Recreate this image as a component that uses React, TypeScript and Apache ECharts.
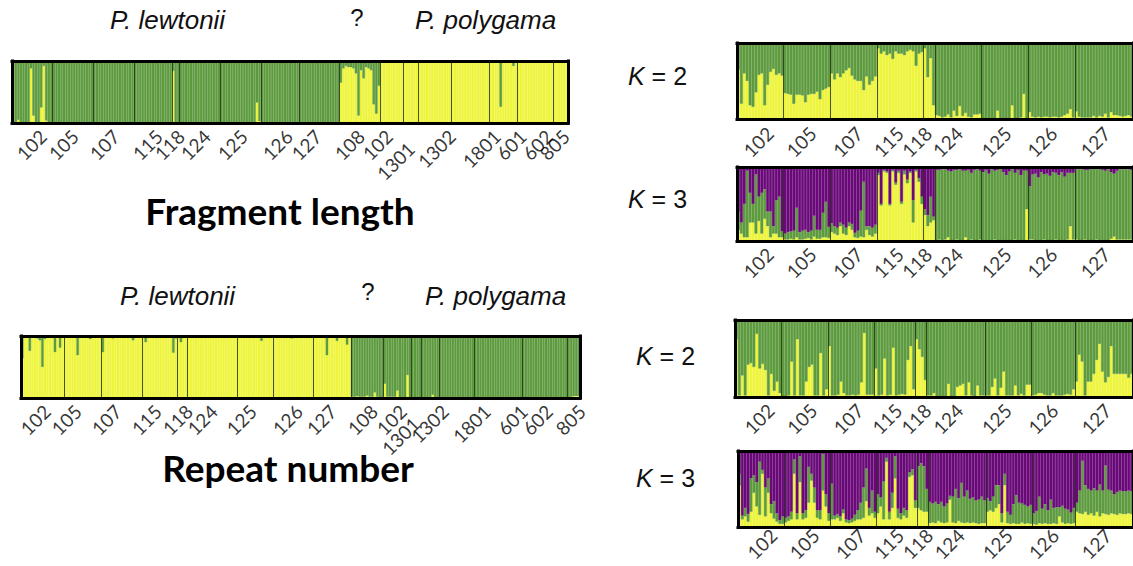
import React, { useEffect, useRef } from "react";
import * as echarts from "echarts";

const YELLOW = "#eef53c";
const GREEN = "#5e9b3f";
const PURPLE = "#6a0a78";

// ---------- Fragment length (left top) ----------
const fragPops = ["102", "105", "107", "115", "118", "124", "125", "126", "127", "108", "102", "1301", "1302", "1801", "601", "602", "805"];
const fragYellow = [
  [0, 0, 0.05, 0, 0, 0, 0, 0.88, 0.12, 0, 0, 0.25, 0.92, 0.04, 0, 0],
  [0, 0, 0, 0, 0, 0, 0, 0, 0, 0, 0, 0, 0, 0, 0, 0],
  [0, 0, 0, 0, 0, 0, 0, 0, 0, 0, 0, 0, 0, 0, 0, 0],
  [0, 0, 0, 0, 0, 0, 0, 0, 0, 0, 0, 0, 0, 0, 0],
  [0.84, 0, 0],
  [0, 0, 0, 0, 0, 0, 0, 0, 0, 0, 0, 0, 0, 0, 0, 0],
  [0, 0, 0, 0, 0, 0, 0, 0, 0, 0, 0, 0, 0, 0, 0.33, 0.03],
  [0, 0, 0, 0, 0, 0, 0, 0, 0, 0, 0, 0, 0, 0, 0],
  [0, 0, 0, 0, 0, 0, 0, 0, 0, 0, 0, 0, 0, 0, 0, 0],
  [0.65, 0.88, 0.92, 0.9, 0.9, 0.88, 0.8, 0.12, 0.85, 0.72, 0.9, 0.88, 0.85, 0.3, 0.15, 0.6],
  [1, 1, 1, 1, 1, 1, 1, 1, 1],
  [1, 1, 1, 1, 1, 1],
  [1, 1, 1, 1, 1, 1, 1, 1, 1, 1, 1, 1, 1],
  [1, 1, 1, 1, 1, 1, 1, 1, 1, 1, 1, 1, 1, 1, 0.97],
  [1, 1, 1, 1, 0.26, 1, 1, 1, 1, 0.92, 1],
  [1, 1, 1, 1, 1, 1, 1, 1, 1, 1, 1, 1, 0.98, 1],
  [1, 1, 1, 1, 1, 0.98],
];
const fragLabelAt = [12.2, 24.8, 41.0, 57.9, 66.6, 76.8, 91.4, 109.1, 120.5, 137.5, 148.5, 157.2, 173.3, 191.0, 201.2, 211.5, 218.2];

// ---------- Repeat number (left bottom) ----------
const repeatPops = fragPops;
const repeatYellow = [
  [0.64, 0.97, 1, 0.76, 1, 1, 0.96, 0.93, 0.5, 0.95, 1, 1, 0.97, 0.74, 1, 0.81, 1],
  [1, 1, 1, 1, 1, 0.69, 1, 1, 1, 1, 0.95, 1, 1, 1, 1],
  [0.74, 1, 1, 1, 0.96, 1, 1, 1, 1, 1, 1, 1, 0.93, 1, 1, 1],
  [1, 0.9, 1, 1, 1, 0.97, 1, 1, 1, 1, 1, 1, 0.73, 0.96],
  [1, 0.9, 0.97, 1],
  [1, 0.98, 1, 1, 0.97, 1, 1, 0.98, 1, 1, 0.97, 1, 1, 1, 0.97, 1, 1, 0.98, 1, 1],
  [1, 1, 1, 1, 1, 1, 1, 1, 1, 0.92, 1, 1, 0.98, 1],
  [1, 1, 1, 1, 1, 1, 1, 0.96, 1, 1, 1, 1, 1, 0.97, 1, 1],
  [1, 1, 1, 1, 1, 0.69, 1, 1, 1, 0.92, 1, 1, 1, 0.86, 1],
  [0.02, 0.02, 0.03, 0.02, 0.02, 0.02, 0.04, 0.02, 0.02, 0.09, 0.02, 0.01, 0],
  [0.23, 0.02, 0.02, 0.02, 0.02, 0.12, 0.01, 0.01, 0.01, 0.37, 0.01],
  [0, 0, 0, 0],
  [0, 0, 0, 0, 0.05, 0, 0],
  [0, 0, 0, 0, 0, 0, 0, 0, 0, 0, 0, 0, 0, 0],
  [0, 0, 0, 0, 0, 0, 0, 0, 0, 0, 0, 0, 0, 0, 0, 0, 0, 0, 0],
  [0, 0, 0, 0, 0, 0, 0, 0, 0, 0, 0, 0, 0, 0, 0, 0, 0, 0],
  [0, 0.02, 0.03, 0.03, 0.03],
];
const repeatLabelAt = [10.3, 22.6, 38.5, 54.4, 66.7, 76.6, 92.1, 110.4, 123.9, 140.2, 151.7, 156.9, 168.4, 185.1, 199.8, 209.7, 222.8];

// ---------- K panels (right) ----------
const kPops = ["102", "105", "107", "115", "118", "124", "125", "126", "127"];

const k2aYellow = [
  [0.65, 0.2, 0.6, 0.5, 0.18, 0.16, 0.35, 0.58, 0.6, 0.18, 0.45, 0.62, 0.66, 0.58, 0.6, 0.57],
  [0.34, 0.33, 0.32, 0.2, 0.32, 0.32, 0.31, 0.22, 0.32, 0.33, 0.33, 0.36, 0.26, 0.38, 0.4, 0.42],
  [0.6, 0.52, 0.6, 0.55, 0.6, 0.64, 0.67, 0.57, 0.52, 0.5, 0.5, 0.38, 0.56, 0.45, 0.5, 0.56],
  [0.93, 0.86, 0.89, 0.84, 0.86, 0.79, 0.89, 0.86, 0.86, 0.84, 0.89, 0.91, 0.89, 0.7, 0.86, 0.88],
  [0.93, 0.55, 0.8, 0.18],
  [0.05, 0.04, 0.02, 0.03, 0.06, 0.02, 0.11, 0.04, 0.17, 0.04, 0.08, 0.03, 0.02, 0.06, 0.06, 0.07],
  [0.01, 0.01, 0.01, 0.01, 0.01, 0.11, 0.01, 0.01, 0.01, 0.01, 0.18, 0.01, 0.01, 0.02, 0.33, 0.01],
  [0.09, 0.03, 0.02, 0.03, 0.02, 0.03, 0.03, 0.02, 0.03, 0.03, 0.02, 0.03, 0.05, 0.07, 0.13, 0.02],
  [0.1, 0.03, 0.02, 0.02, 0.02, 0.02, 0.04, 0.02, 0.04, 0.03, 0.07, 0.02, 0.09, 0.05, 0.05, 0.04, 0.03, 0.04, 0.05, 0.03],
];

const k3aYellow = [
  [0.15, 0.1, 0.05, 0.05, 0.25, 0.25, 0.1, 0.27, 0.1, 0.3, 0.2, 0.05, 0.1, 0.1, 0.05, 0.05],
  [0.02, 0.02, 0.03, 0.02, 0.05, 0.02, 0.02, 0.03, 0.04, 0.02, 0.06, 0.03, 0.03, 0.05, 0.05, 0.04],
  [0.12, 0.1, 0.08, 0.2, 0.1, 0.08, 0.2, 0.15, 0.05, 0.04, 0.06, 0.05, 0.15, 0.08, 0.06, 0.1],
  [0.89, 0.48, 0.94, 0.92, 0.48, 0.94, 0.76, 0.92, 0.5, 0.9, 0.78, 0.92, 0.25, 0.94, 0.8, 0.5],
  [0.35, 0.2, 0.25, 0.28],
  [0.01, 0.02, 0.01, 0.02, 0.05, 0.01, 0.01, 0.02, 0.01, 0.01, 0.05, 0.01, 0.02, 0.01, 0.01, 0.02],
  [0.01, 0.01, 0.01, 0.01, 0.02, 0.01, 0.01, 0.01, 0.01, 0.01, 0.01, 0.02, 0.01, 0.01, 0.01, 0.43],
  [0.02, 0.02, 0.01, 0.01, 0.01, 0.02, 0.01, 0.01, 0.01, 0.02, 0.01, 0.01, 0.01, 0.02, 0.2, 0.02],
  [0.02, 0.01, 0.01, 0.02, 0.01, 0.01, 0.01, 0.02, 0.01, 0.01, 0.01, 0.01, 0.03, 0.06, 0.02, 0.02, 0.02, 0.02, 0.02, 0.02],
];
const k3aGreen = [
  [0.25, 0.15, 0.45, 0.9, 0.4, 0.25, 0.8, 0.33, 0.55, 0.4, 0.2, 0.35, 0.1, 0.45, 0.55, 0.08],
  [0.08, 0.1, 0.1, 0.12, 0.4, 0.1, 0.12, 0.12, 0.08, 0.12, 0.28, 0.12, 0.12, 0.33, 0.48, 0.15],
  [0.12, 0.1, 0.1, 0.05, 0.12, 0.1, 0.05, 0.08, 0.06, 0.1, 0.35, 0.75, 0.05, 0.12, 0.12, 0.12],
  [0.03, 0.02, 0.02, 0.02, 0.02, 0.02, 0.03, 0.03, 0.03, 0.05, 0.05, 0.02, 0.3, 0.02, 0.05, 0.1],
  [0.08, 0.15, 0.35, 0.05],
  [0.95, 0.94, 0.96, 0.95, 0.9, 0.93, 0.95, 0.94, 0.96, 0.94, 0.9, 0.95, 0.9, 0.95, 0.96, 0.93],
  [0.92, 0.95, 0.9, 0.96, 0.93, 0.95, 0.97, 0.92, 0.88, 0.93, 0.96, 0.9, 0.95, 0.88, 0.94, 0.52],
  [0.72, 0.88, 0.9, 0.85, 0.92, 0.88, 0.9, 0.87, 0.92, 0.9, 0.88, 0.92, 0.86, 0.9, 0.72, 0.9],
  [0.95, 0.96, 0.96, 0.94, 0.95, 0.96, 0.97, 0.95, 0.96, 0.95, 0.94, 0.96, 0.9, 0.85, 0.93, 0.95, 0.95, 0.95, 0.95, 0.94],
];
const kaLabelAt = [11.3, 26, 42, 56, 65.7, 76.3, 93, 108.7, 127];

const k2bYellow = [
  [0.75, 0.02, 0.28, 0.02, 0.42, 0.44, 0.39, 0.82, 0.37, 0.43, 0.35, 0.02, 0.3, 0.08, 0.2, 0.05],
  [0.01, 0.01, 0.02, 0.46, 0.02, 0.75, 0.02, 0.02, 0.2, 0.39, 0.42, 0.02, 0.02, 0.57, 0.02, 0.1],
  [0.66, 0.02, 0.02, 0.03, 0.2, 0.05, 0.02, 0.02, 0.03, 0.02, 0.03, 0.19, 0.83, 0.03, 0.03, 0.03],
  [0.37, 0.02, 0.03, 0.5, 0.02, 0.03, 0.64, 0.02, 0.03, 0.04, 0.03, 0.48, 0.66, 0.1],
  [0.75, 0.62, 0.52, 0.22],
  [0.02, 0.02, 0.05, 0.01, 0.01, 0.01, 0.01, 0.17, 0.01, 0.01, 0.13, 0.15, 0.17, 0.02, 0.19, 0.02, 0.01, 0.15, 0.02, 0.02],
  [0.02, 0.02, 0.13, 0.24, 0.02, 0.12, 0.33, 0.02, 0.02, 0.02, 0.15, 0.02, 0.04, 0.02, 0.16, 0.16],
  [0.02, 0.03, 0.05, 0.05, 0.03, 0.02, 0.02, 0.05, 0.02, 0.02, 0.02, 0.03, 0.04, 0.03, 0.1],
  [0.2, 0.55, 0.46, 0.02, 0.2, 0.2, 0.3, 0.48, 0.69, 0.33, 0.19, 0.26, 0.66, 0.3, 0.3, 0.3, 0.3, 0.3, 0.25, 0.3],
];

const k3bYellow = [
  [0.55, 0.1, 0.14, 0.07, 0.2, 0.45, 0.27, 0.16, 0.7, 0.14, 0.45, 0.18, 0.11, 0.07, 0.04, 0.04],
  [0.06, 0.08, 0.1, 0.7, 0.1, 0.59, 0.1, 0.12, 0.32, 0.61, 0.32, 0.12, 0.1, 0.48, 0.27, 0.08],
  [0.1, 0.1, 0.12, 0.08, 0.18, 0.06, 0.05, 0.06, 0.08, 0.1, 0.1, 0.12, 0.34, 0.15, 0.18, 0.12],
  [0.18, 0.27, 0.1, 0.86, 0.1, 0.25, 0.64, 0.12, 0.1, 0.15, 0.12, 0.66, 0.68, 0.25],
  [0.25, 0.22, 0.2, 0.2],
  [0.05, 0.06, 0.05, 0.08, 0.06, 0.05, 0.06, 0.36, 0.06, 0.05, 0.08, 0.06, 0.05, 0.06, 0.05, 0.06, 0.05, 0.04, 0.05, 0.05],
  [0.2, 0.22, 0.2, 0.25, 0.3, 0.06, 0.55, 0.05, 0.04, 0.05, 0.04, 0.04, 0.06, 0.04, 0.05, 0.04],
  [0.04, 0.03, 0.05, 0.04, 0.05, 0.04, 0.04, 0.05, 0.04, 0.14, 0.06, 0.04, 0.05, 0.04, 0.05],
  [0.2, 0.18, 0.17, 0.2, 0.16, 0.18, 0.15, 0.2, 0.14, 0.18, 0.17, 0.16, 0.18, 0.17, 0.16, 0.18, 0.17, 0.17, 0.18, 0.17],
];
const k3bGreen = [
  [0.15, 0.05, 0.11, 0.1, 0.44, 0.23, 0.32, 0.7, 0.05, 0.38, 0.19, 0.12, 0.23, 0.11, 0.05, 0.1],
  [0.06, 0.06, 0.1, 0.19, 0.08, 0.34, 0.08, 0.1, 0.47, 0.09, 0.2, 0.1, 0.12, 0.48, 0.16, 0.1],
  [0.47, 0.05, 0.05, 0.06, 0.05, 0.04, 0.04, 0.05, 0.08, 0.12, 0.22, 0.4, 0.43, 0.1, 0.3, 0.08],
  [0.25, 0.12, 0.5, 0.05, 0.1, 0.2, 0.29, 0.12, 0.08, 0.1, 0.1, 0.06, 0.08, 0.1],
  [0.55, 0.62, 0.6, 0.3],
  [0.28, 0.25, 0.28, 0.22, 0.27, 0.22, 0.25, 0.05, 0.34, 0.45, 0.3, 0.52, 0.35, 0.42, 0.32, 0.33, 0.3, 0.32, 0.35, 0.3],
  [0.18, 0.12, 0.2, 0.3, 0.25, 0.12, 0.15, 0.15, 0.12, 0.25, 0.38, 0.28, 0.25, 0.25, 0.22, 0.25],
  [0.14, 0.18, 0.35, 0.2, 0.25, 0.18, 0.32, 0.2, 0.22, 0.12, 0.22, 0.2, 0.18, 0.15, 0.2],
  [0.12, 0.3, 0.7, 0.35, 0.34, 0.3, 0.36, 0.28, 0.42, 0.3, 0.64, 0.33, 0.3, 0.26, 0.3, 0.3, 0.3, 0.3, 0.3, 0.3],
];
const kbLabelAt = [12.3, 27, 43, 56.3, 66.3, 77.3, 94, 110, 128.3];

type Panel = {
  pops: string[];
  yellow: number[][];
  green?: number[][];
  labelAt: number[];
  box: { left: number; top: number; width: number; height: number };
  gap: number;
};

const panels: Panel[] = [
  { pops: fragPops, yellow: fragYellow, labelAt: fragLabelAt, box: { left: 12, top: 61, width: 556, height: 62 }, gap: 10 },
  { pops: repeatPops, yellow: repeatYellow, labelAt: repeatLabelAt, box: { left: 21, top: 336, width: 559, height: 62 }, gap: 10 },
  { pops: kPops, yellow: k2aYellow, labelAt: kaLabelAt, box: { left: 737, top: 43, width: 408, height: 76 }, gap: 11 },
  { pops: kPops, yellow: k3aYellow, green: k3aGreen, labelAt: kaLabelAt, box: { left: 737, top: 167, width: 408, height: 74 }, gap: 10 },
  { pops: kPops, yellow: k2bYellow, labelAt: kbLabelAt, box: { left: 735, top: 320, width: 411, height: 77 }, gap: 10 },
  { pops: kPops, yellow: k3bYellow, green: k3bGreen, labelAt: kbLabelAt, box: { left: 738, top: 451, width: 411, height: 76 }, gap: 5 },
];

function buildOption() {
  const option: any = {
    animation: false,
    backgroundColor: "#ffffff",
    grid: [],
    xAxis: [],
    yAxis: [],
    series: [],
  };
  const frame = { color: "#000", width: 3, cap: "square" };
  panels.forEach((p, i) => {
    const y = p.yellow.flat();
    const n = y.length;
    const g = p.green ? p.green.flat() : y.map((v) => 1 - v);
    const pu = p.green ? y.map((v, j) => Math.max(0, 1 - v - g[j])) : null;
    const bounds: number[] = [];
    let c = 0;
    p.yellow.slice(0, -1).forEach((a) => {
      c += a.length;
      bounds.push(c);
    });
    option.grid.push({ ...p.box, show: false });
    const common = {
      gridIndex: i,
      axisTick: { show: false },
      axisLabel: { show: false },
      splitLine: { show: false },
      z: 10,
      silent: true,
    };
    option.xAxis.push({
      ...common,
      type: "category",
      data: y.map((_, j) => String(j)),
      position: "bottom",
      boundaryGap: true,
      axisLine: { show: true, onZero: false, lineStyle: frame },
    });
    option.xAxis.push({
      ...common,
      type: "value",
      min: 0,
      max: n,
      position: "top",
      axisLine: { show: true, onZero: false, lineStyle: frame },
    });
    option.yAxis.push({
      ...common,
      type: "value",
      min: 0,
      max: 1,
      position: "left",
      axisLine: { show: true, onZero: false, lineStyle: frame },
    });
    option.yAxis.push({
      ...common,
      type: "value",
      min: 0,
      max: 1,
      position: "right",
      axisLine: { show: true, onZero: false, lineStyle: frame },
    });
    const bar = (data: number[], color: string) => ({
      type: "bar",
      xAxisIndex: 2 * i,
      yAxisIndex: 2 * i,
      stack: "s" + i,
      data,
      barCategoryGap: "0%",
      itemStyle: { color, borderColor: color, borderWidth: 0.4 },
      silent: true,
    });
    option.series.push(bar(y, YELLOW));
    option.series.push(bar(g, GREEN));
    if (pu) option.series.push(bar(pu, PURPLE));
    option.series.push({
      type: "scatter",
      xAxisIndex: 2 * i + 1,
      yAxisIndex: 2 * i,
      symbolSize: 0,
      clip: false,
      silent: true,
      z: 5,
      data: p.pops.map((name, j) => ({ name, value: [p.labelAt[j], name === "1301" ? -0.2 : 0] })),
      label: {
        show: true,
        formatter: "{b}",
        position: "bottom",
        distance: p.gap,
        rotate: 45,
        align: "right",
        verticalAlign: "middle",
        fontSize: 19,
        fontFamily: "Lato",
        color: "#000",
      },
      markLine: {
        silent: true,
        symbol: ["none", "none"],
        label: { show: false },
        lineStyle: { color: "#1e2a14", width: 1, type: "solid", opacity: 0.8 },
        data: bounds.map((b) => ({ xAxis: b })),
      },
    });
  });

  const ital = { fontStyle: "italic", fontSize: 26, fontFamily: "Liberation Sans", fill: "#111", verticalAlign: "middle" };
  const kText = (t: string, x: number, yy: number) => ({
    type: "text",
    x,
    y: yy,
    style: {
      text: "{k|K} = " + t,
      fontSize: 25,
      fontFamily: "Liberation Sans",
      fill: "#111",
      verticalAlign: "middle",
      rich: { k: { fontStyle: "italic", fontSize: 25, fontFamily: "Liberation Sans", fill: "#111" } },
    },
  });
  option.graphic = [
    { type: "text", x: 110, y: 20, style: { ...ital, text: "P. lewtonii", align: "left" } },
    { type: "text", x: 357, y: 17, style: { ...ital, fontSize: 24, fontStyle: "normal", text: "?", align: "center" } },
    { type: "text", x: 415, y: 20, style: { ...ital, text: "P. polygama", align: "left" } },
    { type: "text", x: 120, y: 296, style: { ...ital, text: "P. lewtonii", align: "left" } },
    { type: "text", x: 368, y: 291, style: { ...ital, fontSize: 24, fontStyle: "normal", text: "?", align: "center" } },
    { type: "text", x: 425, y: 296, style: { ...ital, text: "P. polygama", align: "left" } },
    {
      type: "text",
      x: 280,
      y: 210,
      style: { text: "Fragment length", fontSize: 37, fontWeight: "bold", fontFamily: "Lato", fill: "#000", align: "center", verticalAlign: "middle" },
    },
    {
      type: "text",
      x: 288,
      y: 467,
      style: { text: "Repeat number", fontSize: 37, fontWeight: "bold", fontFamily: "Lato", fill: "#000", align: "center", verticalAlign: "middle" },
    },
    kText("2", 628, 76),
    kText("3", 628, 199),
    kText("2", 636, 356),
    kText("3", 636, 478),
  ];
  return option;
}

export default function App() {
  const ref = useRef<HTMLDivElement>(null);
  useEffect(() => {
    if (!ref.current) return;
    const chart = echarts.init(ref.current, null, { renderer: "svg" });
    chart.setOption(buildOption());
    return () => chart.dispose();
  }, []);
  return (
    <div
      ref={ref}
      style={{ position: "absolute", left: 0, top: 0, width: 1133, height: 566, background: "#fff" }}
    />
  );
}
